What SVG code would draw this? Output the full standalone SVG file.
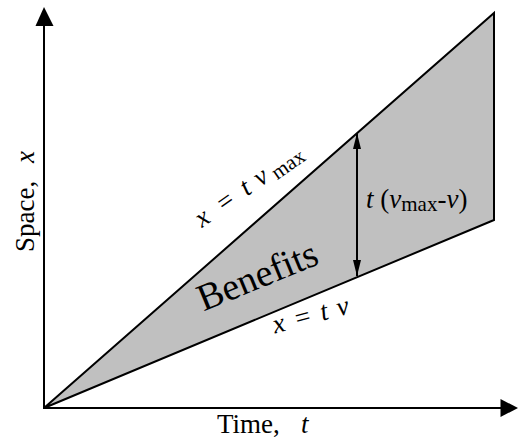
<svg xmlns="http://www.w3.org/2000/svg" width="518" height="442" viewBox="0 0 518 442">
<style>
.t { font-family: 'Liberation Serif', 'Times New Roman', serif; fill: #000; }
.m { font-size: 27px; }
.i { font-style: italic; }
.sub { font-size: 21px; }
.ln { stroke: #000; stroke-width: 2; fill: none; }
</style>
<defs>
<marker id="ah" viewBox="0 0 16 8" refX="16" refY="4" markerWidth="16" markerHeight="8" markerUnits="userSpaceOnUse" orient="auto-start-reverse">
<path d="M0,0 L16,4 L0,8 Z" fill="#000"/>
</marker>
</defs>
<rect width="518" height="442" fill="#fff"/>
<g id="benefits-region">
<polygon points="44,408 494,13 494,220" fill="#c0c0c0" stroke="#000" stroke-width="2" stroke-linejoin="miter"/>
</g>
<g id="connectors">
<line class="ln" x1="44" y1="409" x2="44" y2="24"/>
<polygon points="44,7 35.5,26 53.5,26" fill="#000"/>
<line class="ln" x1="43" y1="408" x2="502" y2="408"/>
<polygon points="518,408 500.5,399 500.5,417" fill="#000"/>
<line x1="357" y1="133" x2="357" y2="276" stroke="#000" stroke-width="2" marker-start="url(#ah)" marker-end="url(#ah)"/>
</g>
<g id="label-upper">
<text class="t m" transform="translate(202,228) rotate(-35)"><tspan class="i" x="0">x</tspan><tspan x="27">=</tspan><tspan class="i" x="55">t</tspan><tspan class="i" x="71.5">v</tspan><tspan class="sub" x="89" dy="4">max</tspan></text>
</g>
<g id="label-lower">
<text class="t m" transform="translate(275,333.5) rotate(-15)"><tspan class="i" x="0">x</tspan><tspan x="23.4">=</tspan><tspan class="i" x="49.3">t</tspan><tspan class="i" x="66.2">v</tspan></text>
</g>
<g id="label-benefits">
<text class="t" transform="translate(203.5,311.5) rotate(-22.3)" font-size="38">Benefits</text>
</g>
<g id="label-diff">
<text class="t m" x="366" y="208"><tspan class="i">t</tspan> (<tspan class="i">v</tspan><tspan class="sub" dy="2.5">max</tspan><tspan dy="-2.5">-</tspan><tspan class="i">v</tspan>)</text>
</g>
<g id="axis-y-label">
<text class="t m" transform="translate(34,252) rotate(-90)">Space,<tspan class="i" x="89">x</tspan></text>
</g>
<g id="axis-x-label">
<text class="t m" x="217" y="433">Time,<tspan class="i" x="301">t</tspan></text>
</g>
</svg>
